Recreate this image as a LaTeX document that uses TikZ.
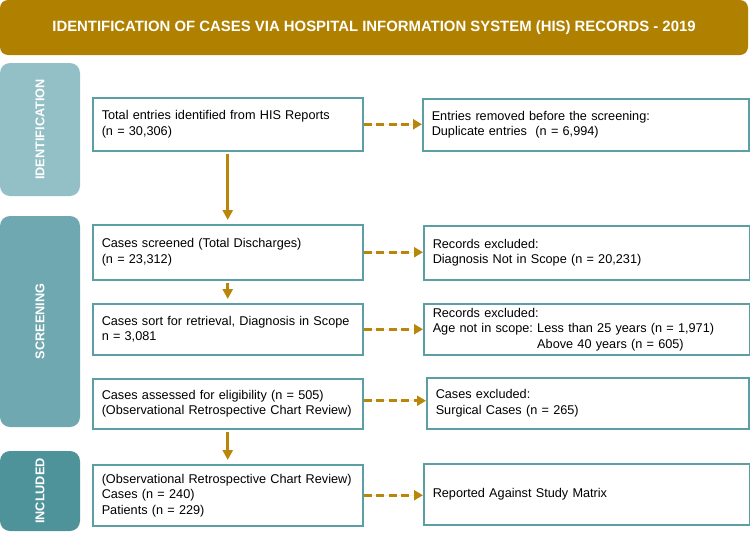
\documentclass[tikz,border=0pt]{standalone}
\usepackage{fontspec}
\setmainfont{Liberation Sans}
\usetikzlibrary{arrows.meta}
\tikzset{>=latex}
\usetikzlibrary{calc}

\definecolor{titlegold}{HTML}{B08000}
\definecolor{identcol}{HTML}{93C0C6}
\definecolor{screencol}{HTML}{6FA8B0}
\definecolor{inclcol}{HTML}{4E939A}
\definecolor{boxline}{HTML}{5B9EA4}
\definecolor{arrowgold}{HTML}{B8860B}

\tikzset{
  stagebox/.style={draw=boxline, line width=1.5pt, fill=white, align=left,
    inner xsep=9pt, anchor=north west, font=\frenchspacing\fontsize{12.7}{15.5}\selectfont},
  leftbox/.style={stagebox, text width=252pt},
  rightbox/.style={stagebox, text width=308pt},
  phase/.style={rounded corners=10pt, rotate=90, text=white, minimum height=80pt,
    font=\bfseries\fontsize{12.7}{14}\selectfont},
  flow/.style={-{Triangle[length=10pt 0 0,width=10pt 0 0]}, line width=2.8pt, draw=arrowgold,
    fill=arrowgold, shorten <=2pt, shorten >=4pt},
  drop/.style={-{Triangle[length=9pt 0 0,width=10pt 0 0]}, line width=2.8pt, draw=arrowgold,
    fill=arrowgold, dash pattern=on 8pt off 4.5pt},
}

\begin{document}
\begin{tikzpicture}[x=1pt, y=-1pt]
    \useasboundingbox (0,0) rectangle (750,541);

    \node[fill=titlegold, rounded corners=8pt, minimum width=748pt, minimum height=55pt,
      text=white, font=\bfseries\fontsize{14.9}{17}\selectfont] (title) at (374,27.5)
      {IDENTIFICATION OF CASES VIA HOSPITAL INFORMATION SYSTEM (HIS) RECORDS - 2019};

    % phases
    \node[phase, fill=identcol, minimum width=133pt] (ident) at (40,129.5) {IDENTIFICATION};
    \node[phase, fill=screencol, minimum width=211pt] (screen) at (40,321.5) {SCREENING};
    \node[phase, fill=inclcol, minimum width=80pt] (incl) at (40,491) {INCLUDED};

    % main column
    \node[leftbox, minimum height=53pt] (his) at (92,97)
      {Total entries identified from HIS Reports\\(n = 30,306)};
    \node[leftbox, minimum height=55pt] (screened) at (92,224)
      {Cases screened (Total Discharges)\\(n = 23,312)};
    \node[leftbox, minimum height=51pt] (sorted) at (92,303)
      {Cases sort for retrieval, Diagnosis in Scope\\n = 3,081};
    \node[leftbox, minimum height=50pt] (assessed) at (92,378)
      {Cases assessed for eligibility (n = 505)\\(Observational Retrospective Chart Review)};
    \node[leftbox, minimum height=61pt] (included) at (92,464)
      {(Observational Retrospective Chart Review)\\Cases (n = 240)\\Patients (n = 229)};

    % exclusions
    \node[rightbox, minimum height=52pt] (dup) at (422,98)
      {Entries removed before the screening:\\Duplicate entries\ \ (n = 6,994)};
    \node[rightbox, minimum height=54pt] (notscope) at (423,225)
      {Records excluded:\\Diagnosis Not in Scope (n = 20,231)};
    \node[rightbox, minimum height=51pt] (age) at (423,303)
      {Records excluded:\\Age not in scope: Less than 25 years (n = 1,971)\\
       \hphantom{Age not in scope: }Above 40 years (n = 605)};
    \node[rightbox, text width=304pt, minimum height=51pt] (surg) at (426,377)
      {Cases excluded:\\Surgical Cases (n = 265)};
    \node[rightbox, minimum height=61pt] (report) at (423,463)
      {Reported Against Study Matrix};

    \draw[flow] (his.south) -- (screened.north);
    \draw[flow] (screened.south) -- (sorted.north);
    \draw[flow] (assessed.south) -- (included.north);

    \draw[drop] (his.east) -- (his.east -| dup.west);
    \draw[drop] (screened.east) -- (screened.east -| notscope.west);
    \draw[drop] (sorted.east) -- (sorted.east -| age.west);
    \draw[drop] ([yshift=3pt]assessed.east) -- ([yshift=3pt]assessed.east -| surg.west);
    \draw[drop] (included.east) -- (included.east -| report.west);
\end{tikzpicture}
\end{document}
